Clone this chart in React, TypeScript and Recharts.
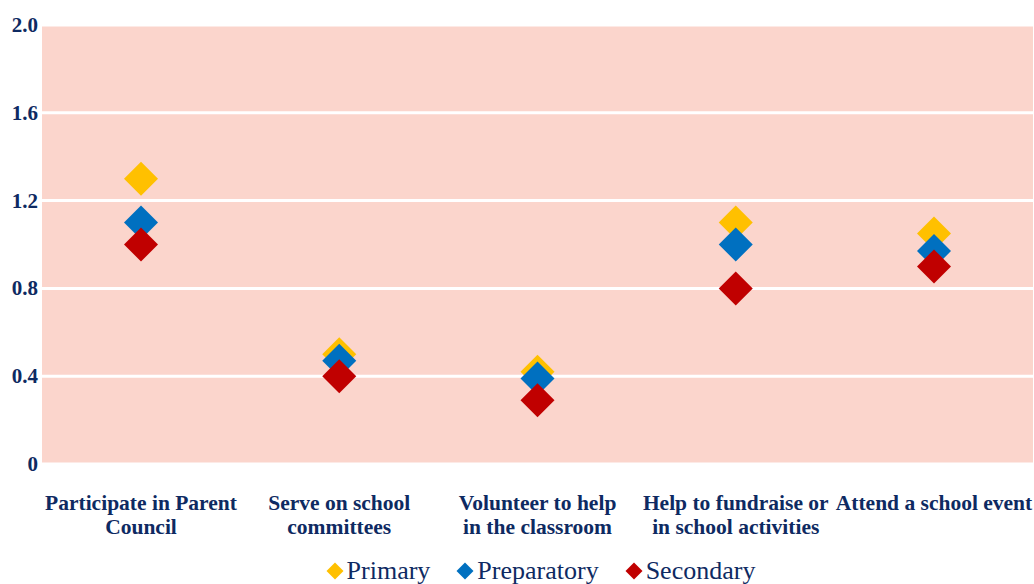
import { CartesianGrid, ComposedChart, Legend, Scatter, XAxis, YAxis } from "recharts";

const categories = [
  "Participate in Parent Council",
  "Serve on school committees",
  "Volunteer to help in the classroom",
  "Help to fundraise or in school activities",
  "Attend a school event",
];

const tickLines = [
  ["Participate in Parent", "Council"],
  ["Serve on school", "committees"],
  ["Volunteer to help", "in the classroom"],
  ["Help to fundraise or", "in school activities"],
  ["Attend a school event"],
];

const primary = [1.3, 0.5, 0.42, 1.1, 1.05];
const preparatory = [1.1, 0.47, 0.39, 1.0, 0.97];
const secondary = [1.0, 0.4, 0.29, 0.8, 0.9];

const yTicks = [0, 0.4, 0.8, 1.2, 1.6, 2.0];

const series = [
  { key: "primary", name: "Primary", color: "#FFC000" },
  { key: "preparatory", name: "Preparatory", color: "#0070C0" },
  { key: "secondary", name: "Secondary", color: "#C00000" },
];

const data = categories.map((name, i) => ({
  name,
  primary: primary[i],
  preparatory: preparatory[i],
  secondary: secondary[i],
}));

const NAVY = "#0E2A62";
const FONT = "'Liberation Serif', 'Times New Roman', serif";

const Diamond = (props: any) => {
  const { cx, cy, fill } = props;
  const r = 17;
  return (
    <polygon
      points={`${cx},${cy - r} ${cx + r},${cy} ${cx},${cy + r} ${cx - r},${cy}`}
      fill={fill}
    />
  );
};

const CategoryTick = (props: any) => {
  const { x, y, payload } = props;
  const lines = tickLines[payload.index] ?? [payload.value];
  return (
    <text
      x={x}
      y={y + 38}
      textAnchor="middle"
      fill={NAVY}
      fontFamily={FONT}
      fontWeight="bold"
      fontSize={21.5}
    >
      {lines.map((l, i) => (
        <tspan key={i} x={x} dy={i === 0 ? 0 : 24}>
          {l}
        </tspan>
      ))}
    </text>
  );
};

const ValueTick = (props: any) => {
  const { x, y, payload } = props;
  const v = payload.value as number;
  return (
    <text
      x={x}
      y={y}
      dy={7}
      textAnchor="end"
      fill={NAVY}
      fontFamily={FONT}
      fontWeight="bold"
      fontSize={21}
    >
      {v === 0 ? "0" : v.toFixed(1)}
    </text>
  );
};

const LegendContent = () => (
  <div
    style={{
      display: "flex",
      justifyContent: "center",
      alignItems: "center",
      fontFamily: FONT,
      fontSize: 26,
      color: NAVY,
      marginTop: 14,
      paddingLeft: 48,
      lineHeight: "26px",
    }}
  >
    {series.map((s) => (
      <div key={s.key} style={{ display: "flex", alignItems: "center", margin: "0 13px" }}>
        <svg width={18} height={18} style={{ marginRight: 3 }}>
          <polygon points="9,0.5 17.5,9 9,17.5 0.5,9" fill={s.color} />
        </svg>
        <span>{s.name}</span>
      </div>
    ))}
  </div>
);

const App = () => {
  return (
    <div style={{ position: "absolute", left: 0, top: 0, background: "#fff" }}>
      <ComposedChart
        width={1034}
        height={584}
        data={data}
        margin={{ top: 25, right: 1, left: 0, bottom: 0 }}
      >
        <CartesianGrid
          vertical={false}
          stroke="#ffffff"
          strokeWidth={3}
          fill="#FBD5CC"
          fillOpacity={1}
        />
        <XAxis
          dataKey="name"
          type="category"
          axisLine={false}
          tickLine={false}
          interval={0}
          height={80}
          padding={{ left: 99, right: 99 }}
          tick={<CategoryTick />}
        />
        <YAxis
          domain={[0, 2]}
          ticks={yTicks}
          width={42}
          axisLine={false}
          tickLine={false}
          tickSize={2}
          tickMargin={2}
          tick={<ValueTick />}
        />
        <Legend verticalAlign="bottom" height={40} content={<LegendContent />} />
        {series.map((s) => (
          <Scatter
            key={s.key}
            dataKey={s.key}
            name={s.name}
            fill={s.color}
            shape={<Diamond />}
            isAnimationActive={false}
          />
        ))}
      </ComposedChart>
    </div>
  );
};

export default App;
